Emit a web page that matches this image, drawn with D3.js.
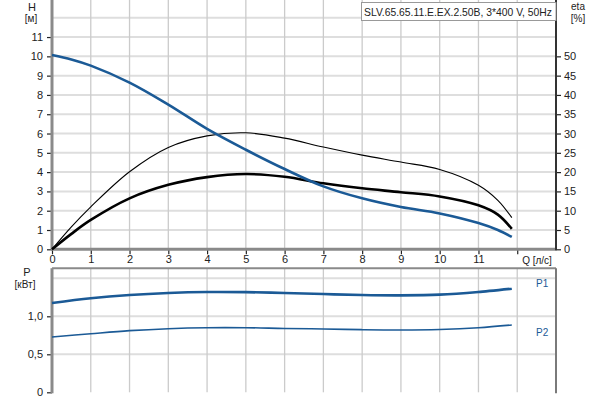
<!DOCTYPE html>
<html><head><meta charset="utf-8">
<script src="https://cdn.jsdelivr.net/npm/d3@7"></script>
<style>
body{margin:0;background:#fff;}
svg text{font-family:"Liberation Sans",Arial,sans-serif;font-size:11px;fill:#222;}
</style></head>
<body><svg id="c" width="600" height="400"></svg>
<script>
// ---- data ----
const title = "SLV.65.65.11.E.EX.2.50B, 3*400 V, 50Hz";
const qTop = [0, 0.5, 1, 2, 3, 4, 5, 6, 7, 8, 9, 10, 11, 11.5, 11.86];
const head = [10.07, 9.84, 9.52, 8.64, 7.5, 6.24, 5.16, 4.16, 3.26, 2.64, 2.19, 1.86, 1.36, 1.0, 0.64];
const etaPump = [0, 5.8, 11, 20.1, 26.4, 29.4, 30.2, 28.8, 26.5, 24.4, 22.6, 20.7, 16.6, 12.7, 8.2];
const etaTotal = [0, 4.0, 7.6, 13.2, 16.7, 18.7, 19.5, 18.8, 17.1, 15.8, 14.8, 13.7, 11.4, 9.0, 5.3];
const qBot = [0, 1, 2, 3, 4, 5, 6, 7, 8, 9, 10, 11, 11.86];
const p1 = [1.175, 1.237, 1.28, 1.307, 1.32, 1.318, 1.307, 1.293, 1.28, 1.276, 1.285, 1.32, 1.363];
const p2 = [0.728, 0.771, 0.811, 0.837, 0.85, 0.85, 0.84, 0.833, 0.824, 0.82, 0.827, 0.85, 0.886];
const qTicks = [0,1,2,3,4,5,6,7,8,9,10,11];
const hTicks = [0,1,2,3,4,5,6,7,8,9,10,11];
const etaTicks = [0,5,10,15,20,25,30,35,40,45,50];
const pTicks = [0, 0.5, 1.0];
const pTickLabels = ["0", "0,5", "1,0"];

// ---- layout ----
const svg = d3.select("#c");
const L = 52, R = 556;
const x = d3.scaleLinear().domain([0, 13]).range([L, R]);
const yH = d3.scaleLinear().domain([0, 12.92]).range([249.3, 0]);
const yE = d3.scaleLinear().domain([0, 64.6]).range([249.3, 0]);
const yP = d3.scaleLinear().domain([0, 1.633]).range([392.3, 268.2]);
const blue = "#1b5a96";

// grids top
const gTop = svg.append("g");
gTop.selectAll(".hg").data(d3.range(1, 13)).join("line")
  .attr("x1", L).attr("x2", R).attr("y1", d => yH(d)).attr("y2", d => yH(d))
  .attr("stroke", "#dedede").attr("stroke-width", 2);
gTop.selectAll(".vg").data(d3.range(1, 13)).join("line")
  .attr("x1", d => x(d)).attr("x2", d => x(d)).attr("y1", 0).attr("y2", yH(0))
  .attr("stroke", "#cbcbcb").attr("stroke-width", 1.3);
// grids bottom
const gBot = svg.append("g");
gBot.selectAll(".hg").data([0.5, 1.0, 1.5]).join("line")
  .attr("x1", L).attr("x2", R).attr("y1", d => yP(d)).attr("y2", d => yP(d))
  .attr("stroke", "#dedede").attr("stroke-width", 2);
gBot.selectAll(".vg").data(d3.range(1, 13)).join("line")
  .attr("x1", d => x(d)).attr("x2", d => x(d)).attr("y1", yP(1.633)).attr("y2", yP(0))
  .attr("stroke", "#cbcbcb").attr("stroke-width", 1.3);

// axes
function styleAxis(g){
  g.select(".domain").remove();
  g.selectAll(".tick line").attr("stroke", "#222").attr("stroke-width", 1.2);
  g.selectAll(".tick text").attr("fill", "#222").style("font-size", "11px");
}
svg.append("g").attr("transform", `translate(${L},0)`)
  .call(d3.axisLeft(yH).tickValues(hTicks).tickSize(5).tickPadding(4)).call(styleAxis);
svg.append("g").attr("transform", `translate(${R},0)`)
  .call(d3.axisRight(yE).tickValues(etaTicks).tickSize(5).tickPadding(3)).call(styleAxis);
svg.append("g").attr("transform", `translate(0,${yH(0)})`)
  .call(d3.axisBottom(x).tickValues(qTicks.concat([12])).tickFormat(d => d === 12 ? "" : d).tickSize(5).tickPadding(1)).call(styleAxis);
svg.append("g").attr("transform", `translate(${L},0)`)
  .call(d3.axisLeft(yP).tickValues(pTicks).tickFormat((d, i) => pTickLabels[i]).tickSize(5).tickPadding(4)).call(styleAxis);

// frame lines
svg.append("line").attr("x1", L).attr("x2", L).attr("y1", 0).attr("y2", yH(0)).attr("stroke", "#8a8a8a").attr("stroke-width", 3);
svg.append("line").attr("x1", L - 1).attr("x2", R).attr("y1", yH(0)).attr("y2", yH(0)).attr("stroke", "#8a8a8a").attr("stroke-width", 3);
svg.append("line").attr("x1", R).attr("x2", R).attr("y1", 0).attr("y2", yH(0) + 1).attr("stroke", "#333").attr("stroke-width", 2);
svg.append("line").attr("x1", L).attr("x2", L).attr("y1", yP(1.633)).attr("y2", yP(0) + 1).attr("stroke", "#8a8a8a").attr("stroke-width", 3);
svg.append("line").attr("x1", L).attr("x2", R).attr("y1", yP(1.633)).attr("y2", yP(1.633)).attr("stroke", "#8a8a8a").attr("stroke-width", 2);
svg.append("line").attr("x1", R).attr("x2", R).attr("y1", yP(1.633)).attr("y2", yP(0) + 1).attr("stroke", "#7a7a7a").attr("stroke-width", 2);

// curves
const cv = d3.curveCatmullRom.alpha(0.5);
const lineH = d3.line().x((d, i) => x(qTop[i])).y(d => yH(d)).curve(cv);
const lineE = d3.line().x((d, i) => x(qTop[i])).y(d => yE(d)).curve(cv);
const lineP = d3.line().x((d, i) => x(qBot[i])).y(d => yP(d)).curve(cv);
svg.append("path").attr("d", lineE(etaPump)).attr("fill", "none").attr("stroke", "#000").attr("stroke-width", 1.1);
svg.append("path").attr("d", lineE(etaTotal)).attr("fill", "none").attr("stroke", "#000").attr("stroke-width", 2.6);
svg.append("path").attr("d", lineH(head)).attr("fill", "none").attr("stroke", blue).attr("stroke-width", 2.6);
svg.append("path").attr("d", lineP(p1)).attr("fill", "none").attr("stroke", blue).attr("stroke-width", 2.6);
svg.append("path").attr("d", lineP(p2)).attr("fill", "none").attr("stroke", blue).attr("stroke-width", 1.6);

// labels
svg.append("text").attr("x", 32).attr("y", 11).attr("text-anchor", "middle").text("H");
svg.append("text").attr("x", 31).attr("y", 22).attr("text-anchor", "middle").style("font-size", "10px").text("[м]");
svg.append("text").attr("x", 578).attr("y", 10).attr("text-anchor", "middle").style("font-size", "10px").text("eta");
svg.append("text").attr("x", 578).attr("y", 22).attr("text-anchor", "middle").style("font-size", "10px").text("[%]");
svg.append("text").attr("x", 27).attr("y", 276).attr("text-anchor", "middle").text("P");
svg.append("text").attr("x", 25).attr("y", 288).attr("text-anchor", "middle").style("font-size", "10px").text("[кВт]");
svg.append("text").attr("x", 537).attr("y", 264).attr("text-anchor", "middle").style("font-size", "10px").text("Q [л/с]");
svg.append("text").attr("x", 536).attr("y", 287).style("fill", blue).style("font-size", "10px").text("P1");
svg.append("text").attr("x", 536).attr("y", 336).style("fill", blue).style("font-size", "10px").text("P2");

// title box
svg.append("rect").attr("x", 361.5).attr("y", 2.5).attr("width", R - 361.5).attr("height", 18)
  .attr("fill", "#fff").attr("stroke", "#999").attr("stroke-width", 1);
svg.append("text").attr("x", 364).attr("y", 15.5).attr("textLength", 188).attr("lengthAdjust", "spacingAndGlyphs")
  .style("font-size", "11px").text(title);
</script></body></html>
